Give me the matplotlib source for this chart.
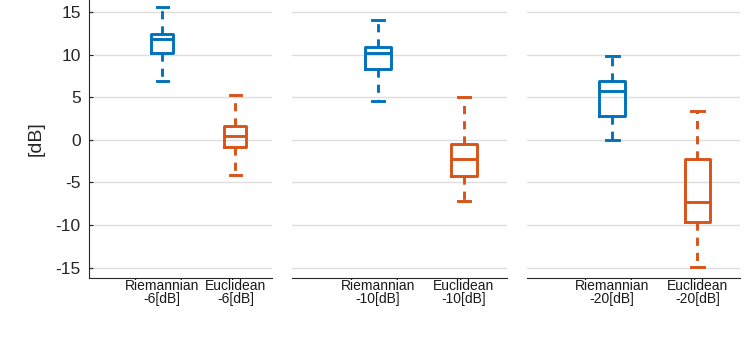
import matplotlib
matplotlib.use("Agg")
import matplotlib.pyplot as plt

plt.rcParams["font.family"] = ["Liberation Sans", "DejaVu Sans"]
plt.rcParams["axes.unicode_minus"] = False

# 三组信噪比下的箱线图统计量
snr_labels = ["-6[dB]", "-10[dB]", "-20[dB]"]
methods = ["Riemannian", "Euclidean"]
colors = ["#0072BD", "#D95319"]

# 每组: [Riemannian, Euclidean]
whislo = [[6.9, -4.1], [4.6, -7.2], [0.0, -14.9]]
q1 = [[10.2, -0.8], [8.3, -4.2], [2.8, -9.6]]
med = [[11.8, 0.5], [10.2, -2.2], [5.7, -7.3]]
q3 = [[12.4, 1.6], [10.9, -0.5], [6.9, -2.3]]
whishi = [[15.6, 5.3], [14.0, 5.0], [9.8, 3.4]]

fig = plt.figure(figsize=(7.47, 3.51), dpi=100)
rects = [
    [89 / 747, 73 / 351, 183 / 747, 278 / 351],
    [292 / 747, 73 / 351, 215 / 747, 278 / 351],
    [527 / 747, 73 / 351, 213 / 747, 278 / 351],
]

lw = 2.1
for g in range(3):
    ax = fig.add_axes(rects[g])
    for k in range(2):
        st = [{
            "whislo": whislo[g][k], "q1": q1[g][k], "med": med[g][k],
            "q3": q3[g][k], "whishi": whishi[g][k], "fliers": [],
        }]
        c = colors[k]
        ax.bxp(st, positions=[k + 1], widths=0.3, showfliers=False,
               capwidths=0.15, manage_ticks=False,
               boxprops=dict(color=c, linewidth=lw),
               medianprops=dict(color=c, linewidth=lw),
               whiskerprops=dict(color=c, linewidth=lw, linestyle=(0, (2.8, 2.4))),
               capprops=dict(color=c, linewidth=lw))
    ax.set_xlim(0, 2.5)
    ax.set_ylim(-16.2, 16.4)
    ax.set_yticks(range(-15, 16, 5))
    ax.set_xticks([1, 2])
    ax.set_xticklabels([m + "\n" + snr_labels[g] for m in methods],
                       fontsize=10, linespacing=0.85, color="#1a1a1a")
    ax.tick_params(axis="x", length=0, pad=1)
    ax.grid(axis="y", color="#dedede", linewidth=1)
    ax.set_axisbelow(True)
    for s in ["top", "right"]:
        ax.spines[s].set_visible(False)
    ax.spines["bottom"].set_color("#262626")
    if g == 0:
        ax.spines["left"].set_color("#262626")
        ax.tick_params(axis="y", direction="in", length=3, pad=6,
                       labelsize=12.5, colors="#262626")
        ax.set_ylabel("[dB]", fontsize=14, color="#262626", labelpad=8)
    else:
        ax.spines["left"].set_visible(False)
        ax.tick_params(axis="y", length=0, labelleft=False)

fig.savefig("out.png", dpi=100)
